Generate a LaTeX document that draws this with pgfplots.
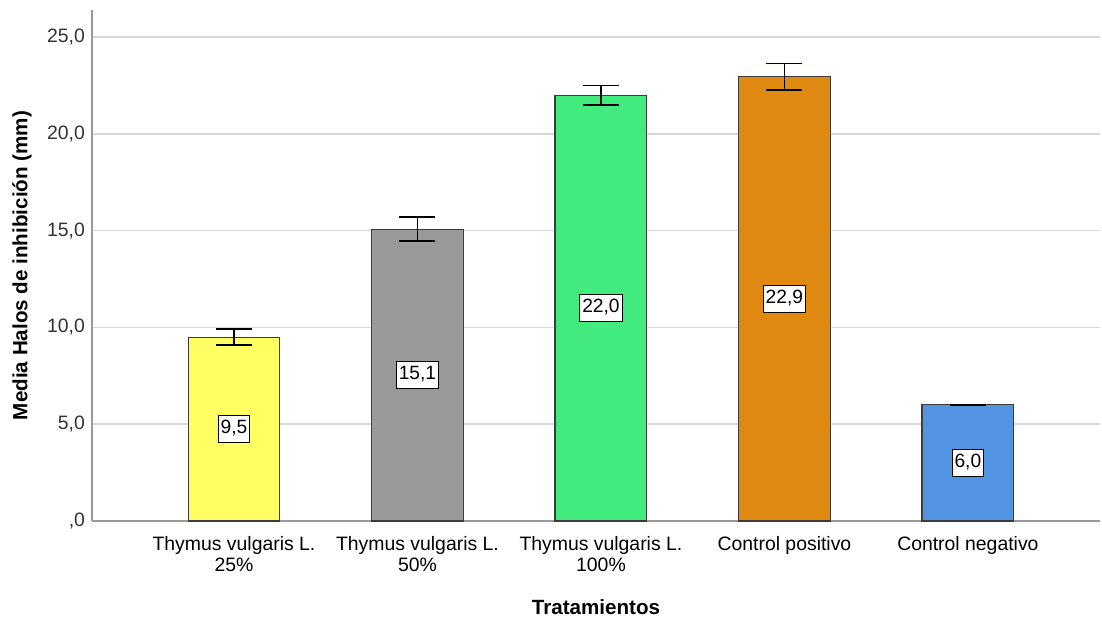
\documentclass[border=0pt]{standalone}
\usepackage{pgfplots}
\pgfplotsset{compat=1.18}
\usepackage{fontspec}
\setmainfont{Liberation Sans}

\definecolor{barYellow}{RGB}{255,255,100}
\definecolor{barGray}{RGB}{153,153,153}
\definecolor{barGreen}{RGB}{66,235,125}
\definecolor{barOrange}{RGB}{224,137,16}
\definecolor{barBlue}{RGB}{82,148,226}
\definecolor{gridGray}{RGB}{215,215,215}
\definecolor{edgeGray}{RGB}{60,60,60}

\begin{document}
\begin{tikzpicture}
\begin{axis}[
    scale only axis,
    width=504pt, height=255.5pt,
    xmin=0.226, xmax=5.72,
    ymin=0, ymax=26.4,
    axis x line*=bottom, axis y line*=left,
    axis line style={-, draw=gray!80, line width=0.8pt},
    xtick={1,2,3,4,5},
    xticklabels={{Thymus vulgaris L.\\25\%},{Thymus vulgaris L.\\50\%},{Thymus vulgaris L.\\100\%},{Control positivo},{Control negativo}},
    xticklabel style={align=center, font=\fontsize{9.7}{10.5}\selectfont, anchor=north, yshift=-4pt},
    ytick={0,5,10,15,20,25},
    yticklabels={{,0},{5,0},{10,0},{15,0},{20,0},{25,0}},
    yticklabel style={font=\fontsize{9.7}{11}\selectfont, text=black!80},
    major tick length=0pt,
    ymajorgrids,
    grid style={gridGray, line width=0.8pt},
    xlabel={\bfseries Tratamientos},
    ylabel={\bfseries Media Halos de inhibición (mm)},
    xlabel style={at={(axis description cs:0.5,-0.1683)}, anchor=center, font=\fontsize{10.3}{12}\selectfont},
    ylabel style={at={(axis description cs:-0.0694,0.5)}, anchor=center, font=\fontsize{10.3}{12}\selectfont},
    clip=false,
]

% bars with error bars
\pgfplotsset{
  mybar/.style={ybar, bar width=0.5, bar shift=0pt, draw=edgeGray, line width=0.6pt,
    error bars/.cd, y dir=both, y explicit,
    error mark=|,
    error bar style={black, line width=0.8pt},
    error mark options={black, mark size=9pt, line width=0.8pt},
    /pgfplots/.cd},
}
\addplot[fill=barYellow, mybar] coordinates {(1,9.5) +- (0,0.42)};
\addplot[fill=barGray, mybar] coordinates {(2,15.08) +- (0,0.62)};
\addplot[fill=barGreen, mybar] coordinates {(3,22.0) +- (0,0.5)};
\addplot[fill=barOrange, mybar] coordinates {(4,22.95) +- (0,0.68)};
\addplot[fill=barBlue, mybar] coordinates {(5,6.0) +- (0,0)};

% value labels at half height
\addplot[draw=none, mark=none, nodes near coords, point meta=explicit symbolic,
    every node near coord/.style={anchor=center, draw=black, fill=white, line width=0.5pt,
      inner xsep=1.2pt, inner ysep=2pt, text height=7pt, text depth=2.3pt,
      font=\fontsize{9.6}{11}\selectfont}]
  table[meta=lab] {
x y lab
1 4.75 9,5
2 7.54 15,1
3 11.0 22,0
4 11.47 22,9
5 3.0 6,0
};
\end{axis}
\pgfresetboundingbox
\path[use as bounding box] (-46pt,-48pt) rectangle (505pt,260.5pt);
\end{tikzpicture}
\end{document}
